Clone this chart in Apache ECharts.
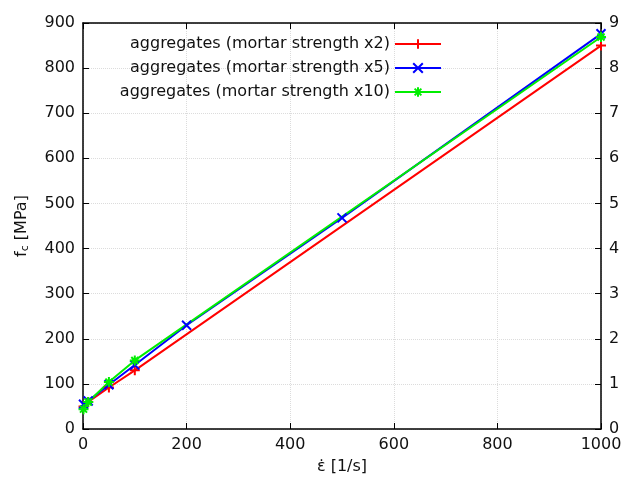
<!DOCTYPE html>
<html>
<head>
<meta charset="utf-8">
<script src="https://cdn.jsdelivr.net/npm/echarts@6/dist/echarts.min.js"></script>
<style>
  html, body { margin: 0; padding: 0; background: #fff; }
  #chart { width: 633px; height: 480px; }
</style>
</head>
<body>
<div id="chart"></div>
<script>
// strain rate [1/s] vs compressive strength [MPa]
const redX = [1, 10, 50, 100, 1000]
const redY = [50, 60, 92, 130, 850]
const blueX = [1, 10, 50, 100, 200, 500, 1000]
const blueY = [55, 62, 98, 142, 230, 468, 876]
const greenX = [1, 10, 50, 100, 1000]
const greenY = [44, 60, 104, 152, 869]

const names = [
  'aggregates (mortar strength x2)',
  'aggregates (mortar strength x5)',
  'aggregates (mortar strength x10)'
]

const font = 'DejaVu Sans'
const plus = 'path://M0,5L10,5M5,0L5,10'
const cross = 'path://M1,1L9,9M1,9L9,1'
const star = 'path://M0,5L10,5M5,0L5,10M1.5,1.5L8.5,8.5M1.5,8.5L8.5,1.5'

const pairs = (xs, ys) => xs.map((x, i) => [x, ys[i]])

function lineSeries(name, xs, ys, color, symbol, size) {
  return {
    name,
    type: 'line',
    data: pairs(xs, ys),
    symbol,
    symbolSize: size,
    showSymbol: true,
    lineStyle: { color, width: 2 },
    itemStyle: { color, borderColor: color, borderWidth: 2 },
    animation: false
  }
}

const chart = echarts.init(document.getElementById('chart'))

const gridLine = { show: true, lineStyle: { color: '#dcdcdc', type: 'dotted', width: 1 } }
const axisLine = { show: true, onZero: false, lineStyle: { color: '#000', width: 1.5 } }
const tick = { show: true, inside: true, length: 6, lineStyle: { color: '#000' } }
const label = { fontFamily: font, fontSize: 16, color: '#111', margin: 8 }

chart.setOption({
  textStyle: { fontFamily: font },
  grid: { left: 83, right: 32, top: 23, bottom: 48 },
  legend: {
    orient: 'vertical',
    right: 186,
    top: 31,
    align: 'right',
    itemWidth: 46,
    itemHeight: 12,
    itemGap: 8,
    textStyle: { fontFamily: font, fontSize: 16, color: '#111' },
    data: names
  },
  xAxis: [{
    type: 'value',
    min: 0,
    max: 1000,
    interval: 200,
    name: 'ε̇ [1/s]',
    nameLocation: 'middle',
    nameGap: 30,
    nameTextStyle: { fontFamily: font, fontSize: 16, color: '#111' },
    axisLine,
    axisTick: tick,
    axisLabel: Object.assign({ formatter: v => String(v) }, label),
    splitLine: gridLine
  }, {
    type: 'value',
    position: 'top',
    min: 0,
    max: 1000,
    interval: 200,
    axisLine,
    axisTick: tick,
    axisLabel: { show: false },
    splitLine: { show: false }
  }],
  yAxis: [{
    type: 'value',
    min: 0,
    max: 900,
    interval: 100,
    name: '{n|f}{s|c}{n| [MPa]}',
    nameLocation: 'middle',
    nameGap: 52,
    nameTextStyle: {
      fontFamily: font, fontSize: 16, color: '#111',
      rich: {
        n: { fontFamily: font, fontSize: 16, color: '#111' },
        s: { fontFamily: font, fontSize: 11, color: '#111', padding: [8, 0, 0, 0] }
      }
    },
    axisLine,
    axisTick: tick,
    axisLabel: label,
    splitLine: gridLine
  }, {
    type: 'value',
    position: 'right',
    min: 0,
    max: 9,
    interval: 1,
    axisLine,
    axisTick: tick,
    axisLabel: label,
    splitLine: { show: false }
  }],
  series: [
    lineSeries(names[0], redX, redY, '#ff0000', plus, 10),
    lineSeries(names[1], blueX, blueY, '#0000ff', cross, 9),
    lineSeries(names[2], greenX, greenY, '#00ee00', star, 10)
  ]
})
</script>
</body>
</html>
